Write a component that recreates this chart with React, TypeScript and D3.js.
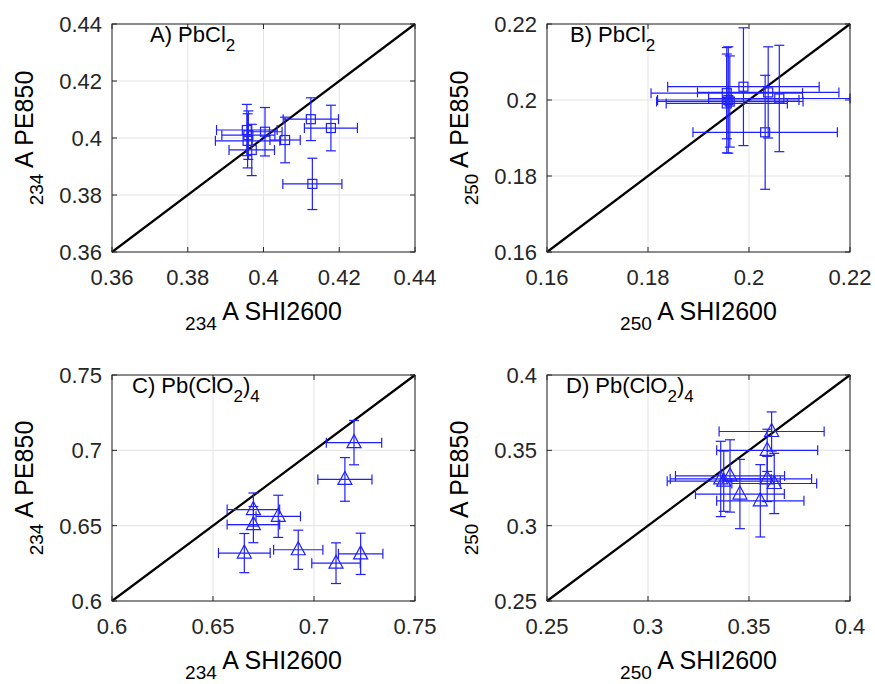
import React from "react";
import * as d3 from "d3";

// ---------- data ----------
const xA = [0.3956, 0.3960, 0.3958, 0.3969, 0.4004, 0.4057, 0.4125, 0.4178, 0.4129];
const yA = [0.4028, 0.4010, 0.3990, 0.3958, 0.4022, 0.3993, 0.4066, 0.4035, 0.3839];
const xerrA = [0.008, 0.007, 0.0085, 0.006, 0.0045, 0.004, 0.0073, 0.007, 0.0078];
const yerrA = [0.009, 0.0085, 0.0095, 0.009, 0.0085, 0.008, 0.0075, 0.008, 0.009];

const xB = [0.1956, 0.1959, 0.1956, 0.1962, 0.1989, 0.2038, 0.2060, 0.2032];
const yB = [0.2018, 0.2000, 0.1991, 0.1996, 0.2035, 0.2020, 0.2004, 0.1915];
const xerrB = [0.015, 0.014, 0.012, 0.0145, 0.015, 0.014, 0.014, 0.0143];
const yerrB = [0.012, 0.014, 0.013, 0.012, 0.0155, 0.012, 0.014, 0.015];

const xC = [0.7198, 0.7153, 0.6700, 0.6823, 0.6700, 0.6655, 0.6922, 0.7109, 0.7231];
const yC = [0.7051, 0.6807, 0.6607, 0.6562, 0.6507, 0.6318, 0.6340, 0.6251, 0.6313];
const xerrC = [0.0137, 0.0134, 0.013, 0.011, 0.013, 0.0128, 0.0122, 0.012, 0.011];
const yerrC = [0.0147, 0.0145, 0.011, 0.014, 0.012, 0.013, 0.013, 0.0135, 0.0137];

const xD = [0.3612, 0.3590, 0.3406, 0.3360, 0.3375, 0.3455, 0.3556, 0.3625, 0.3590];
const yD = [0.3625, 0.3500, 0.3330, 0.3310, 0.3295, 0.3210, 0.3165, 0.3280, 0.3310];
const xerrD = [0.026, 0.025, 0.027, 0.025, 0.028, 0.022, 0.0216, 0.021, 0.022];
const yerrD = [0.013, 0.014, 0.024, 0.025, 0.02, 0.023, 0.024, 0.02, 0.015];

const ticksA = [0.36, 0.38, 0.4, 0.42, 0.44];
const tickLabelsA = ["0.36", "0.38", "0.4", "0.42", "0.44"];
const ticksB = [0.16, 0.18, 0.2, 0.22];
const tickLabelsB = ["0.16", "0.18", "0.2", "0.22"];
const ticksC = [0.6, 0.65, 0.7, 0.75];
const tickLabelsC = ["0.6", "0.65", "0.7", "0.75"];
const ticksD = [0.25, 0.3, 0.35, 0.4];
const tickLabelsD = ["0.25", "0.3", "0.35", "0.4"];

const FONT = "'Liberation Sans', Arial, Helvetica, sans-serif";
const AXIS = "#262626";
const GRID = "#e3e3e3";
const BLUE = "#1f1fff";

// title pieces: [text, isSubscript]
const titleA: [string, boolean][] = [["A) PbCl", false], ["2", true]];
const titleB: [string, boolean][] = [["B) PbCl", false], ["2", true]];
const titleC: [string, boolean][] = [["C) Pb(ClO", false], ["2", true], [")", false], ["4", true]];
const titleD: [string, boolean][] = [["D) Pb(ClO", false], ["2", true], [")", false], ["4", true]];

type PanelProps = {
  left: number; top: number; width: number; height: number;
  domain: [number, number];
  ticks: number[]; tickLabels: string[];
  xs: number[]; ys: number[]; xerr: number[]; yerr: number[];
  marker: "square" | "triangle";
  title: [string, boolean][]; titleX: number;
  sub: string;
};

function Panel(p: PanelProps) {
  const x = d3.scaleLinear().domain(p.domain).range([p.left, p.left + p.width]);
  const y = d3.scaleLinear().domain(p.domain).range([p.top + p.height, p.top]);
  const right = p.left + p.width;
  const bottom = p.top + p.height;
  const tl = 5;
  const cap = 5;
  const line = d3.line<[number, number]>().x((d) => x(d[0])).y((d) => y(d[1]));
  let prevSub = false;
  return (
    <g>
      <rect x={p.left} y={p.top} width={p.width} height={p.height} fill="#fff" />
      {p.ticks.map((t, i) => (
        <g key={"g" + i}>
          <line x1={x(t)} x2={x(t)} y1={p.top} y2={bottom} stroke={GRID} strokeWidth={1} />
          <line x1={p.left} x2={right} y1={y(t)} y2={y(t)} stroke={GRID} strokeWidth={1} />
        </g>
      ))}
      <path d={line([[p.domain[0], p.domain[0]], [p.domain[1], p.domain[1]]]) || ""} stroke="#000" strokeWidth={2.2} fill="none" />
      {p.xs.map((xv, i) => {
        const cx = x(xv), cy = y(p.ys[i]);
        const x0 = x(xv - p.xerr[i]), x1 = x(xv + p.xerr[i]);
        const y0 = y(p.ys[i] - p.yerr[i]), y1 = y(p.ys[i] + p.yerr[i]);
        return (
          <g key={"e" + i} stroke={BLUE} strokeWidth={1.2} fill="none">
            <line x1={cx} x2={cx} y1={y0} y2={y1} />
            <line x1={cx - cap} x2={cx + cap} y1={y0} y2={y0} />
            <line x1={cx - cap} x2={cx + cap} y1={y1} y2={y1} />
            <line x1={x0} x2={x1} y1={cy} y2={cy} />
            <line x1={x0} x2={x0} y1={cy - cap} y2={cy + cap} />
            <line x1={x1} x2={x1} y1={cy - cap} y2={cy + cap} />
            {p.marker === "square" ? (
              <rect x={cx - 4.5} y={cy - 4.5} width={9} height={9} />
            ) : (
              <path d={`M${cx},${cy - 8}L${cx + 7},${cy + 5}L${cx - 7},${cy + 5}Z`} />
            )}
          </g>
        );
      })}
      <rect x={p.left} y={p.top} width={p.width} height={p.height} fill="none" stroke={AXIS} strokeWidth={1} />
      {p.ticks.map((t, i) => (
        <g key={"t" + i} stroke={AXIS} strokeWidth={1}>
          <line x1={x(t)} x2={x(t)} y1={bottom} y2={bottom - tl} />
          <line x1={x(t)} x2={x(t)} y1={p.top} y2={p.top + tl} />
          <line x1={p.left} x2={p.left + tl} y1={y(t)} y2={y(t)} />
          <line x1={right} x2={right - tl} y1={y(t)} y2={y(t)} />
        </g>
      ))}
      {p.ticks.map((t, i) => (
        <g key={"l" + i} fill={AXIS} fontFamily={FONT} fontSize={22}>
          <text x={x(t)} y={bottom + 33} textAnchor="middle">{p.tickLabels[i]}</text>
          <text x={p.left - 10} y={y(t) + 8} textAnchor="end">{p.tickLabels[i]}</text>
        </g>
      ))}
      <text x={p.titleX} y={p.top + 18} fontFamily={FONT} fontSize={22} fill="#000">
        {p.title.map(([s, isSub], k) => {
          let dy = 0;
          if (isSub && !prevSub) dy = 9;
          if (!isSub && prevSub) dy = -9;
          prevSub = isSub;
          return (
            <tspan key={k} dy={dy} fontSize={isSub ? 17 : 22}>{s}</tspan>
          );
        })}
      </text>
      <text x={(p.left + right) / 2} y={bottom + 68} textAnchor="middle" fontFamily={FONT} fontSize={25} fill="#000">
        <tspan fontSize={19} dy={10}>{p.sub}</tspan>
        <tspan dy={-10}>{" A SHI2600"}</tspan>
      </text>
      <text transform={`translate(${p.left - 79},${(p.top + bottom) / 2}) rotate(-90)`} textAnchor="middle" fontFamily={FONT} fontSize={25} fill="#000">
        <tspan fontSize={19} dy={10}>{p.sub}</tspan>
        <tspan dy={-10}>{" A PE850"}</tspan>
      </text>
    </g>
  );
}

export default function App() {
  const W = 303;
  return (
    <svg width={875} height={684} style={{ position: "absolute", left: 0, top: 0, background: "#fff" }}>
      <rect x={0} y={0} width={875} height={684} fill="#fff" />
      <Panel left={112} top={24} width={W} height={228} domain={[0.36, 0.44]} ticks={ticksA} tickLabels={tickLabelsA}
        xs={xA} ys={yA} xerr={xerrA} yerr={yerrA} marker="square"
        title={titleA} titleX={150} sub="234" />
      <Panel left={547} top={24} width={W} height={228} domain={[0.16, 0.22]} ticks={ticksB} tickLabels={tickLabelsB}
        xs={xB} ys={yB} xerr={xerrB} yerr={yerrB} marker="square"
        title={titleB} titleX={570} sub="250" />
      <Panel left={112} top={375} width={W} height={226} domain={[0.6, 0.75]} ticks={ticksC} tickLabels={tickLabelsC}
        xs={xC} ys={yC} xerr={xerrC} yerr={yerrC} marker="triangle"
        title={titleC} titleX={132} sub="234" />
      <Panel left={547} top={375} width={W} height={226} domain={[0.25, 0.4]} ticks={ticksD} tickLabels={tickLabelsD}
        xs={xD} ys={yD} xerr={xerrD} yerr={yerrD} marker="triangle"
        title={titleD} titleX={566} sub="250" />
    </svg>
  );
}
